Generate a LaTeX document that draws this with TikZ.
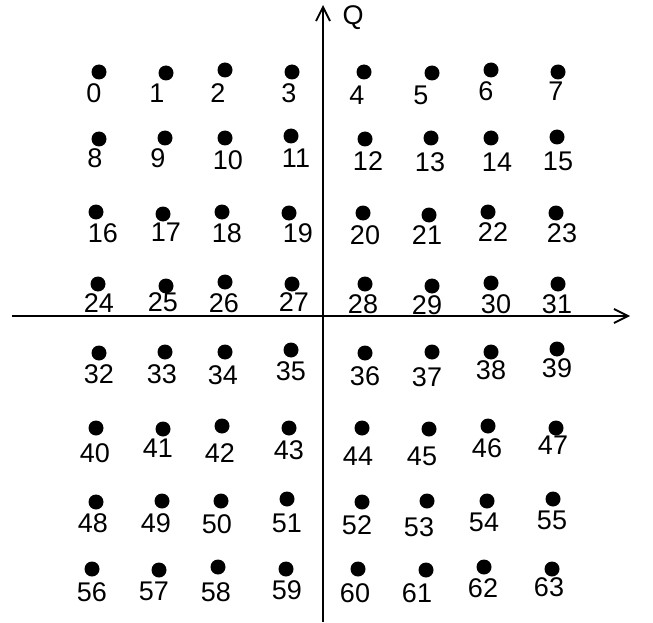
\documentclass[tikz,border=0pt]{standalone}
\usepackage{fontspec}
\setmainfont{Liberation Sans}
\usetikzlibrary{arrows.meta}

\tikzset{
  dot/.style={circle, fill=black, inner sep=0pt, minimum size=15pt},
  num/.style={anchor=center, inner sep=0pt, font=\fontsize{27}{32}\selectfont},
  axis/.style={line width=1.8pt, -{Straight Barb[length=14pt, width=14pt, line width=1.8pt]}}
}

\begin{document}
\begin{tikzpicture}[x=1pt, y=-1pt]

  %% ════ axes ════
  \coordinate (iL) at (12,316);
  \coordinate (iR) at (630,316);
  \coordinate (qB) at (323,622);
  \coordinate (qT) at (323,5);
  \draw[axis] (iL) -- (iR);
  \draw[axis] (qB) -- (qT);
  \node[num] (qlab) at (353,18) {Q};

  %% ════ points (dot centres, row by row) ════
  \node[dot] (p0) at (99,72) {};
  \node[dot] (p1) at (166,73) {};
  \node[dot] (p2) at (225,70) {};
  \node[dot] (p3) at (292,72) {};
  \node[dot] (p4) at (364,72) {};
  \node[dot] (p5) at (432,73) {};
  \node[dot] (p6) at (491,70) {};
  \node[dot] (p7) at (558,72) {};

  \node[dot] (p8) at (99,139) {};
  \node[dot] (p9) at (165,138) {};
  \node[dot] (p10) at (225,138) {};
  \node[dot] (p11) at (291,136) {};
  \node[dot] (p12) at (365,139) {};
  \node[dot] (p13) at (431,138) {};
  \node[dot] (p14) at (491,138) {};
  \node[dot] (p15) at (557,137) {};

  \node[dot] (p16) at (96,212) {};
  \node[dot] (p17) at (163,214) {};
  \node[dot] (p18) at (222,212) {};
  \node[dot] (p19) at (289,213) {};
  \node[dot] (p20) at (363,213) {};
  \node[dot] (p21) at (429,215) {};
  \node[dot] (p22) at (488,212) {};
  \node[dot] (p23) at (556,213) {};

  \node[dot] (p24) at (98,284) {};
  \node[dot] (p25) at (166,286) {};
  \node[dot] (p26) at (225,282) {};
  \node[dot] (p27) at (292,284) {};
  \node[dot] (p28) at (365,284) {};
  \node[dot] (p29) at (432,286) {};
  \node[dot] (p30) at (491,283) {};
  \node[dot] (p31) at (558,284) {};

  \node[dot] (p32) at (99,353) {};
  \node[dot] (p33) at (165,352) {};
  \node[dot] (p34) at (225,352) {};
  \node[dot] (p35) at (291,350) {};
  \node[dot] (p36) at (365,353) {};
  \node[dot] (p37) at (432,352) {};
  \node[dot] (p38) at (491,352) {};
  \node[dot] (p39) at (557,349) {};

  \node[dot] (p40) at (96,428) {};
  \node[dot] (p41) at (163,429) {};
  \node[dot] (p42) at (222,426) {};
  \node[dot] (p43) at (289,428) {};
  \node[dot] (p44) at (362,428) {};
  \node[dot] (p45) at (429,429) {};
  \node[dot] (p46) at (488,426) {};
  \node[dot] (p47) at (556,428) {};

  \node[dot] (p48) at (96,502) {};
  \node[dot] (p49) at (162,501) {};
  \node[dot] (p50) at (221,501) {};
  \node[dot] (p51) at (287,499) {};
  \node[dot] (p52) at (362,502) {};
  \node[dot] (p53) at (427,501) {};
  \node[dot] (p54) at (487,501) {};
  \node[dot] (p55) at (553,499) {};

  \node[dot] (p56) at (92,569) {};
  \node[dot] (p57) at (159,570) {};
  \node[dot] (p58) at (218,567) {};
  \node[dot] (p59) at (286,569) {};
  \node[dot] (p60) at (358,569) {};
  \node[dot] (p61) at (426,570) {};
  \node[dot] (p62) at (484,567) {};
  \node[dot] (p63) at (552,569) {};

  %% ════ labels (placed by hand, they overlap the dots a little) ════
  \node[num] (n0) at (94,93) {0};
  \node[num] (n1) at (157,93) {1};
  \node[num] (n2) at (218,93) {2};
  \node[num] (n3) at (289,93) {3};
  \node[num] (n4) at (357,95) {4};
  \node[num] (n5) at (421,95) {5};
  \node[num] (n6) at (486,91) {6};
  \node[num] (n7) at (556,91) {7};

  \node[num] (n8) at (95,158) {8};
  \node[num] (n9) at (158,158) {9};
  \node[num] (n10) at (228,160) {10};
  \node[num] (n11) at (296,158) {11};
  \node[num] (n12) at (368,161) {12};
  \node[num] (n13) at (430,162) {13};
  \node[num] (n14) at (497,162) {14};
  \node[num] (n15) at (558,161) {15};

  \node[num] (n16) at (103,233) {16};
  \node[num] (n17) at (166,232) {17};
  \node[num] (n18) at (227,233) {18};
  \node[num] (n19) at (298,233) {19};
  \node[num] (n20) at (365,235) {20};
  \node[num] (n21) at (427,235) {21};
  \node[num] (n22) at (493,232) {22};
  \node[num] (n23) at (562,233) {23};

  \node[num] (n24) at (99,303) {24};
  \node[num] (n25) at (163,302) {25};
  \node[num] (n26) at (224,303) {26};
  \node[num] (n27) at (294,302) {27};
  \node[num] (n28) at (363,304) {28};
  \node[num] (n29) at (427,305) {29};
  \node[num] (n30) at (496,304) {30};
  \node[num] (n31) at (557,304) {31};

  \node[num] (n32) at (99,374) {32};
  \node[num] (n33) at (162,374) {33};
  \node[num] (n34) at (223,375) {34};
  \node[num] (n35) at (291,371) {35};
  \node[num] (n36) at (365,376) {36};
  \node[num] (n37) at (427,377) {37};
  \node[num] (n38) at (491,370) {38};
  \node[num] (n39) at (557,368) {39};

  \node[num] (n40) at (95,453) {40};
  \node[num] (n41) at (158,448) {41};
  \node[num] (n42) at (220,453) {42};
  \node[num] (n43) at (289,450) {43};
  \node[num] (n44) at (358,456) {44};
  \node[num] (n45) at (422,456) {45};
  \node[num] (n46) at (487,448) {46};
  \node[num] (n47) at (553,445) {47};

  \node[num] (n48) at (93,523) {48};
  \node[num] (n49) at (156,523) {49};
  \node[num] (n50) at (217,524) {50};
  \node[num] (n51) at (287,523) {51};
  \node[num] (n52) at (357,525) {52};
  \node[num] (n53) at (419,527) {53};
  \node[num] (n54) at (484,522) {54};
  \node[num] (n55) at (552,520) {55};

  \node[num] (n56) at (92,592) {56};
  \node[num] (n57) at (154,591) {57};
  \node[num] (n58) at (216,592) {58};
  \node[num] (n59) at (287,590) {59};
  \node[num] (n60) at (355,593) {60};
  \node[num] (n61) at (417,593) {61};
  \node[num] (n62) at (483,588) {62};
  \node[num] (n63) at (549,587) {63};

  % fix the canvas to the reference size
  \pgfresetboundingbox
  \path[use as bounding box] (0,0) rectangle (653,623);
\end{tikzpicture}
\end{document}
